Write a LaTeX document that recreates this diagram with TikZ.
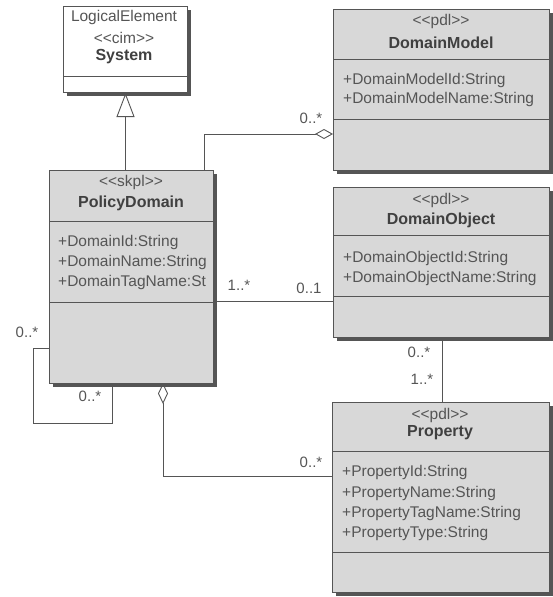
\documentclass[tikz,border=0pt]{standalone}
\usepackage{fontspec}
\setmainfont{Liberation Sans}
\usetikzlibrary{shadows,arrows.meta,calc}
\definecolor{ink}{HTML}{555555}
\definecolor{namecol}{HTML}{404040}
\definecolor{boxfill}{HTML}{D8D8D8}
\definecolor{shade}{HTML}{555555}
\newcommand\stereo[1]{<{}<#1>{}>}
\begin{document}
\begin{tikzpicture}[x=1pt,y=-1pt,
  classbox/.style={draw=ink, fill=boxfill, line width=1pt, anchor=north west, inner sep=0pt,
    drop shadow={shadow xshift=3pt,shadow yshift=-3pt,fill=shade,opacity=1}},
  plainbox/.style={classbox, fill=white},
  txt/.style={text=ink, font=\fontsize{15.5}{17}\selectfont, inner sep=0pt},
  attr/.style={txt, anchor=west},
  cname/.style={text=namecol, font=\fontsize{16}{17}\selectfont\bfseries, inner sep=0pt},
  mult/.style={txt, font=\fontsize{15}{17}\selectfont},
  conn/.style={draw=ink, line width=0.9pt},
  sep/.style={draw=ink, line width=0.9pt}
]
\useasboundingbox (0,0) rectangle (552,597);

% System
\node[plainbox, minimum width=124pt, minimum height=86pt] (sys) at (63,6) {};
\draw[sep] (sys.west |- 0,76) -- (sys.east |- 0,76);
\node[txt] (sysst) at (124,17) {LogicalElement};
\node[txt] (syscim) at (124,38) {\stereo{cim}};
\node[cname] (sysname) at (124,57) {System};

% DomainModel
\node[classbox, minimum width=216pt, minimum height=161pt] (dm) at (333,9) {};
\draw[sep] (dm.west |- 0,59) -- (dm.east |- 0,59);
\draw[sep] (dm.west |- 0,119) -- (dm.east |- 0,119);
\node[txt] (dmst) at (441,21) {\stereo{pdl}};
\node[cname] (dmname) at (441,43) {DomainModel};
\node[attr] (dma1) at (343,80) {+DomainModelId:String};
\node[attr] (dma2) at (343,99) {+DomainModelName:String};

% PolicyDomain
\node[classbox, minimum width=164pt, minimum height=213pt] (pd) at (49,170) {};
\draw[sep] (pd.west |- 0,221) -- (pd.east |- 0,221);
\draw[sep] (pd.west |- 0,302) -- (pd.east |- 0,302);
\node[txt] (pdst) at (131,182) {\stereo{skpl}};
\node[cname] (pdname) at (131,203) {PolicyDomain};
\node[attr] (pda1) at (58,242) {+DomainId:String};
\node[attr] (pda2) at (58,262) {+DomainName:String};
\node[attr] (pda3) at (58,282) {+DomainTagName:St};

% DomainObject
\node[classbox, minimum width=216pt, minimum height=150pt] (do) at (333,187) {};
\draw[sep] (do.west |- 0,235) -- (do.east |- 0,235);
\draw[sep] (do.west |- 0,296) -- (do.east |- 0,296);
\node[txt] (dost) at (441,200) {\stereo{pdl}};
\node[cname] (doname) at (441,220) {DomainObject};
\node[attr] (doa1) at (343,258) {+DomainObjectId:String};
\node[attr] (doa2) at (343,278) {+DomainObjectName:String};

% Property
\node[classbox, minimum width=217pt, minimum height=190pt] (pr) at (332,402) {};
\draw[sep] (pr.west |- 0,451) -- (pr.east |- 0,451);
\draw[sep] (pr.west |- 0,552) -- (pr.east |- 0,552);
\node[txt] (prst) at (440,415) {\stereo{pdl}};
\node[cname] (prname) at (440,433) {Property};
\node[attr] (pra1) at (342,472) {+PropertyId:String};
\node[attr] (pra2) at (342,493) {+PropertyName:String};
\node[attr] (pra3) at (342,513) {+PropertyTagName:String};
\node[attr] (pra4) at (342,533) {+PropertyType:String};

% connectors
\draw[conn, -{Triangle[open,length=24pt,width=18pt]}] (sys.south |- pd.north) -- (sys.south);
\coordinate (pdtop) at (204,170);
\coordinate (dmin) at (333,134);
\draw[conn, -{Diamond[open,length=18pt,width=10pt]}] (pdtop) |- (dmin);
\draw[conn] (pd.east |- 0,301) -- (do.west |- 0,301);
\draw[conn] (do.south -| 442,0) -- (pr.north -| 442,0);
\coordinate (pdbot) at (163,383);
\coordinate (prin) at (332,476);
\draw[conn, {Diamond[open,length=21pt,width=10pt]}-] (pdbot) |- (prin);
\coordinate (loopa) at (33,348);
\coordinate (loopb) at (112,423);
\draw[conn] (pd.west |- loopa) -- (loopa) |- (loopb) -- (pd.south -| loopb);

% multiplicities
\node[mult] (m1) at (311,118) {0..*};
\node[mult] (m2) at (239,285) {1..*};
\node[mult] (m3) at (309,288) {0..1};
\node[mult] (m4) at (419,352) {0..*};
\node[mult] (m5) at (422,379) {1..*};
\node[mult] (m6) at (311,462) {0..*};
\node[mult] (m7) at (27,332) {0..*};
\node[mult] (m8) at (90,396) {0..*};
\end{tikzpicture}
\end{document}
